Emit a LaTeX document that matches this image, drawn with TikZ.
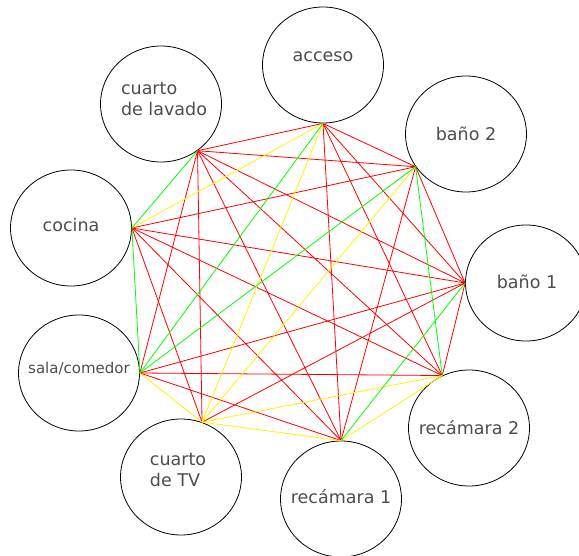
\documentclass[tikz,border=0pt]{standalone}
\usepackage{fontspec}
\setmainfont{DejaVu Sans}
\usetikzlibrary{shapes.geometric}
\definecolor{labelgray}{RGB}{77,77,77}
\begin{document}
\begin{tikzpicture}[x=1pt,y=-1pt,
	room/.style={draw,ellipse,line width=0.8pt,minimum width=121pt,minimum height=116pt,inner sep=0pt},
	roomlabel/.style={inner sep=0pt,text=labelgray,align=left,font=\fontsize{17.5}{21}\selectfont},
	link/.style={line width=0.8pt}]
	\useasboundingbox (0,0) rectangle (579,556);
	\node[room,label={[roomlabel,yshift=8pt]center:acceso}] (acceso) at (323,65) {};
	\node[room,label={[roomlabel]center:baño 2}] (banodos) at (466,134) {};
	\node[room,label={[roomlabel,yshift=1pt,xshift=1pt]center:baño 1}] (banouno) at (526,283) {};
	\node[room,label={[roomlabel]center:recámara 2}] (recdos) at (469,428) {};
	\node[room,label={[roomlabel,yshift=2pt]center:recámara 1}] (recuno) at (341,499) {};
	\node[room,label={[roomlabel,yshift=7pt,xshift=-3pt]center:cuarto\\de TV}] (tv) at (181,477) {};
	\node[room,label={[roomlabel,yshift=5pt,font=\fontsize{15}{18}\selectfont]center:sala/comedor}] (sala) at (79,373) {};
	\node[room,label={[roomlabel,yshift=3pt]center:cocina}] (cocina) at (71,228) {};
	\node[room,label={[roomlabel,yshift=5pt,xshift=3pt]center:cuarto\\de lavado}] (lavado) at (161,104) {};
	% puntos de contacto
	\coordinate (pA) at (acceso.south);
	\coordinate (pBd) at (banodos.-147);
	\coordinate (pBu) at (banouno.west);
	\coordinate (pRd) at (recdos.117);
	\coordinate (pRu) at (recuno.north);
	\coordinate (pT) at (tv.69);
	\coordinate (pS) at (sala.east);
	\coordinate (pC) at (cocina.east);
	\coordinate (pL) at (lavado.-52);
	% relaciones
	\foreach \a/\b in {pL/pA,pL/pBd,pL/pBu,pL/pRd,pL/pRu,pL/pT,pL/pS,
		pA/pBd,pA/pBu,pA/pRd,pA/pRu,pBd/pC,pBd/pBu,pBd/pRu,
		pBu/pC,pBu/pS,pBu/pT,pBu/pRd,pRd/pC,pRd/pS,pRu/pC,pRu/pS,pT/pC}
	{
		\draw[link,red] (\a) -- (\b);
	}
	\foreach \a/\b in {pA/pC,pA/pT,pBd/pT,pT/pS,pT/pRu,pT/pRd,pRu/pRd}
	{
		\draw[link,yellow] (\a) -- (\b);
	}
	\foreach \a/\b in {pL/pC,pC/pS,pS/pA,pS/pBd,pBd/pRd,pBu/pRu}
	{
		\draw[link,green] (\a) -- (\b);
	}
\end{tikzpicture}
\end{document}
